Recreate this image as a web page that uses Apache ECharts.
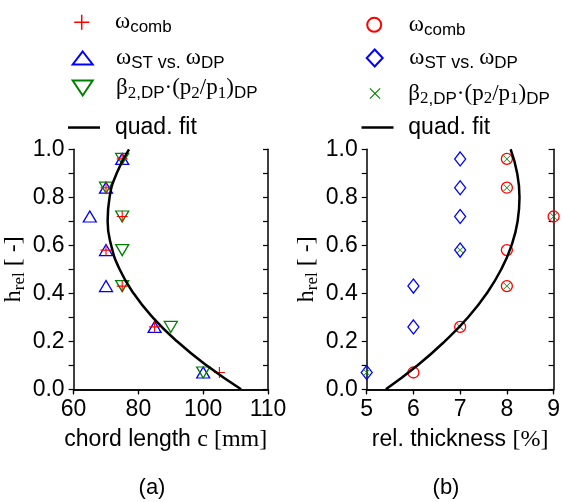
<!DOCTYPE html>
<html>
<head>
<meta charset="utf-8">
<script src="https://cdn.jsdelivr.net/npm/echarts@6/dist/echarts.min.js"></script>
<style>
html,body{margin:0;padding:0;background:#fff;}
#chart{width:563px;height:502px;}
</style>
</head>
<body>
<div id="chart"></div>
<script>
// ---------------- data ----------------
var heights = [0.07, 0.26, 0.43, 0.58, 0.72, 0.84, 0.96];
var chordComb = [105, 85, 75, 70, 75, 70, 75];
var chordST   = [100, 85, 70, 70, 65, 70, 75];
var chordBeta = [100, 90, 75, 75, 75, 70, 75];
var thickComb = [6, 7, 8, 8, 9, 8, 8];
var thickST   = [5, 6, 6, 7, 7, 7, 7];
var thickBeta = [5, 7, 8, 7, 9, 8, 8];
var fitH     = [0, 0.1, 0.2, 0.3, 0.4, 0.5, 0.6, 0.7, 0.8, 0.9, 1.0];
var fitChord = [111.7, 101.0, 91.9, 84.4, 78.5, 74.2, 71.6, 70.5, 71.1, 73.3, 77.1];
var fitThick = [5.41, 6.09, 6.67, 7.17, 7.57, 7.88, 8.10, 8.23, 8.27, 8.22, 8.08];
var chordTicks = [60, 80, 100, 120];
var chordTickLabels = ['60', '80', '100', '110'];
var thickTicks = [5, 6, 7, 8, 9];
var thickTickLabels = ['5', '6', '7', '8', '9'];
var yTicks = [0, 0.2, 0.4, 0.6, 0.8, 1.0];
var yTickLabels = ['0.0', '0.2', '0.4', '0.6', '0.8', '1.0'];

function pairs(xs, ys) { return xs.map(function (x, i) { return [x, ys[i]]; }); }
function lookup(ticks, labels) {
  return function (v) {
    for (var i = 0; i < ticks.length; i++) if (Math.abs(ticks[i] - v) < 1e-6) return labels[i];
    return '';
  };
}

var SANS = 'Liberation Sans';
var SERIF = 'Liberation Serif';
var BLACK = '#000';
var RED = '#ff0000', BLUE = '#0000ff', GREEN = '#008000';

var PLUS = 'path://M9,0H11V9H20V11H11V20H9V11H0V9H9Z';
var XCROSS = 'path://M1.4,0L10,8.6L18.6,0L20,1.4L11.4,10L20,18.6L18.6,20L10,11.4L1.4,20L0,18.6L8.6,10L0,1.4Z';
var DOWNTRI = 'path://M0,0L20,0L10,15Z';

var legendRich = {
  w: {fontFamily: SERIF, fontSize: 23, lineHeight: 28, verticalAlign: 'middle', color: BLACK},
  s: {fontFamily: SANS, fontSize: 17, lineHeight: 18, verticalAlign: 'bottom', color: BLACK},
  ts: {fontFamily: SERIF, fontSize: 17, lineHeight: 18, verticalAlign: 'bottom', color: BLACK},
  v: {fontFamily: SANS, fontSize: 18, lineHeight: 26, verticalAlign: 'bottom', color: BLACK},
  t: {fontFamily: SANS, fontSize: 23, lineHeight: 28, verticalAlign: 'middle', color: BLACK}
};
var legendLabels = {
  comb_a: '{w|ω}{s|comb}', comb_b: '{w|ω}{s|comb}',
  st_a: '{w|ω}{s|ST}{v| vs. }{w|ω}{s|DP}', st_b: '{w|ω}{s|ST}{v| vs. }{w|ω}{s|DP}',
  beta_a: '{w|β}{ts|2}{s|,DP}{w|·(p}{ts|2}{w|/p}{ts|1}{w|)}{s|DP}',
  beta_b: '{w|β}{ts|2}{s|,DP}{w|·(p}{ts|2}{w|/p}{ts|1}{w|)}{s|DP}',
  fit_a: '{t|quad. fit}', fit_b: '{t|quad. fit}'
};
function legendItem(name, cx, cy, w, h, textX, icon) {
  var left = cx - w / 2;
  var item = icon ? {name: name, icon: icon, itemStyle: {color: BLACK, borderWidth: 0}} : name;
  return {
    data: [item], orient: 'vertical', left: left, top: cy - h / 2,
    itemWidth: w, itemHeight: h, padding: 0, selectedMode: false,
    formatter: function (n) { return legendLabels[n]; },
    textStyle: {color: BLACK, rich: legendRich, padding: [0, 0, 0, textX - left - w - 5]}
  };
}

var axisLineStyle = {color: BLACK, width: 1.5};
function xAxisPair(gridIndex, min, max, interval, ticks, labels, nameRich, name, namePad) {
  return [{
    type: 'value', gridIndex: gridIndex, min: min, max: max, interval: interval,
    position: 'bottom',
    axisLine: {show: true, lineStyle: axisLineStyle},
    axisTick: {show: true, inside: false, length: 5, lineStyle: {color: BLACK, width: 1.2}},
    axisLabel: {show: true, margin: 9, color: BLACK, fontFamily: SANS, fontSize: 23, formatter: lookup(ticks, labels)},
    splitLine: {show: false},
    name: name, nameLocation: 'middle', nameGap: 38,
    nameTextStyle: {rich: nameRich, color: BLACK, padding: namePad}
  }, {
    type: 'value', gridIndex: gridIndex, min: min, max: max, interval: interval,
    position: 'top',
    axisLine: {show: true, lineStyle: axisLineStyle},
    axisTick: {show: true, inside: true, length: 5, lineStyle: {color: BLACK, width: 1.2}},
    axisLabel: {show: false}, splitLine: {show: false}
  }];
}
var yNameRich = {
  h: {fontFamily: SERIF, fontSize: 24, lineHeight: 28, verticalAlign: 'middle', color: BLACK},
  r: {fontFamily: SERIF, fontSize: 17, lineHeight: 18, verticalAlign: 'bottom', color: BLACK},
  b: {fontFamily: SERIF, fontSize: 24, lineHeight: 28, verticalAlign: 'middle', color: BLACK}
};
function yAxisPair(gridIndex) {
  return [{
    type: 'value', gridIndex: gridIndex, min: 0, max: 1, interval: 0.2, position: 'left',
    axisLine: {show: true, lineStyle: axisLineStyle},
    axisTick: {show: true, inside: false, length: 5, lineStyle: {color: BLACK, width: 1.2}},
    minorTick: {show: true, splitNumber: 2, length: 5, lineStyle: {color: BLACK, width: 1.2}},
    axisLabel: {show: true, margin: 9, color: BLACK, fontFamily: SANS, fontSize: 23, formatter: lookup(yTicks, yTickLabels)},
    splitLine: {show: false},
    name: '{h|h}{r|rel}{b| [ -]}', nameLocation: 'middle', nameRotate: 90, nameGap: 46,
    nameTextStyle: {rich: yNameRich, color: BLACK}
  }, {
    type: 'value', gridIndex: gridIndex, min: 0, max: 1, interval: 0.2, position: 'right',
    axisLine: {show: true, lineStyle: axisLineStyle},
    axisTick: {show: true, inside: true, length: 5, lineStyle: {color: BLACK, width: 1.2}},
    minorTick: {show: true, splitNumber: 2, length: 5, lineStyle: {color: BLACK, width: 1.2}},
    axisLabel: {show: false}, splitLine: {show: false}
  }];
}
var xNameRich = {
  a: {fontFamily: SANS, fontSize: 23, color: BLACK},
  b: {fontFamily: SERIF, fontSize: 24, color: BLACK}
};

function scatter(name, xi, yi, xs, symbol, size, fill, stroke, bw) {
  return {
    type: 'scatter', name: name, xAxisIndex: xi, yAxisIndex: yi, data: pairs(xs, heights),
    symbol: symbol, symbolSize: size, clip: false,
    itemStyle: {color: fill, borderColor: stroke, borderWidth: bw, opacity: 1},
    emphasis: {disabled: true}
  };
}

var option = {
  animation: false,
  backgroundColor: '#fff',
  grid: [
    {left: 73.6, top: 149.3, width: 194.4, height: 240},
    {left: 366.7, top: 149.3, width: 195, height: 240}
  ],
  xAxis: [].concat(
    xAxisPair(0, 60, 120, 20, chordTicks, chordTickLabels, xNameRich, '{a|chord length }{b|c [mm]}', [0, 10, 0, 0]),
    xAxisPair(1, 5, 9, 1, thickTicks, thickTickLabels, xNameRich, '{a|rel. thickness }{b|[%]}', [0, 0, 0, 0])
  ),
  yAxis: [].concat(yAxisPair(0), yAxisPair(1)),
  legend: [
    legendItem('comb_a', 81.7, 18.3, 15, 15, 115),
    legendItem('st_a', 81.7, 53, 20, 13, 115),
    legendItem('beta_a', 81.7, 84, 20, 15, 115),
    legendItem('fit_a', 84, 117.3, 32, 2.5, 115, 'rect'),
    legendItem('comb_b', 373.7, 20.3, 15, 14, 408.3),
    legendItem('st_b', 373.7, 55, 16, 17, 408.3),
    legendItem('beta_b', 375, 87.5, 11, 11, 408.3),
    legendItem('fit_b', 377.5, 117.3, 32, 2.5, 408.3, 'rect')
  ],
  series: [
    {type: 'line', name: 'fit_a', xAxisIndex: 0, yAxisIndex: 0, data: pairs(fitChord, fitH),
     smooth: true, showSymbol: false, symbol: 'none', lineStyle: {color: BLACK, width: 2.5},
     itemStyle: {color: BLACK}, emphasis: {disabled: true}},
    scatter('st_a', 0, 0, chordST, 'triangle', [13, 11], 'transparent', BLUE, 1.3),
    scatter('beta_a', 0, 0, chordBeta, DOWNTRI, [13, 11], 'transparent', GREEN, 1.3),
    scatter('comb_a', 0, 0, chordComb, PLUS, 11, RED, RED, 0),
    {type: 'line', name: 'fit_b', xAxisIndex: 2, yAxisIndex: 2, data: pairs(fitThick, fitH),
     smooth: true, showSymbol: false, symbol: 'none', lineStyle: {color: BLACK, width: 2.5},
     itemStyle: {color: BLACK}, emphasis: {disabled: true}},
    scatter('st_b', 2, 2, thickST, 'diamond', [11, 14], 'transparent', BLUE, 1.3),
    scatter('comb_b', 2, 2, thickComb, 'circle', 11, 'transparent', RED, 1.3),
    scatter('beta_b', 2, 2, thickBeta, XCROSS, 7, GREEN, GREEN, 0)
  ],
  graphic: [
    {type: 'text', x: 152, y: 488, style: {text: '(a)', align: 'center', verticalAlign: 'middle', font: '22px "Liberation Sans"', fill: BLACK}},
    {type: 'text', x: 446, y: 488, style: {text: '(b)', align: 'center', verticalAlign: 'middle', font: '22px "Liberation Sans"', fill: BLACK}}
  ]
};

var chart = echarts.init(document.getElementById('chart'), null, {renderer: 'canvas'});
chart.setOption(option);
</script>
</body>
</html>
